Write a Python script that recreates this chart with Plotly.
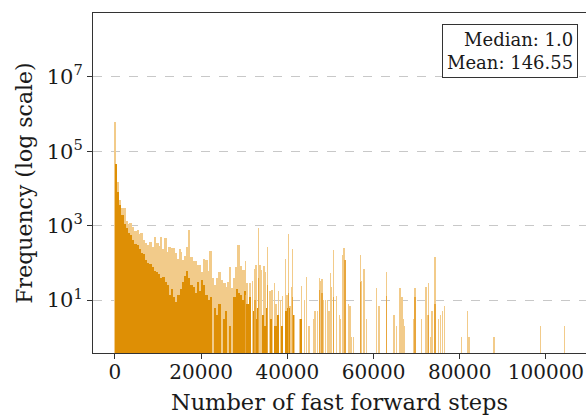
import plotly.graph_objects as go

# ---------------- data ----------------
BIN_W = 500  # width of the dense histogram bins (steps)
# typical (filled) count per 500-step bin
dense_counts = [45000, 8000, 3500, 1900, 1100, 850, 650, 560, 420, 330,
                300, 240, 180, 170, 120, 100, 95, 75, 60, 55,
                50, 38, 42, 30, 25, 14, 20, 12, 9, 14,
                20, 30, 45, 60, 40, 25, 22, 15, 30, 18,
                35, 25, 14, 10, 12, 0, 6, 4, 8, 0,
                3, 5, 0, 2, 0, 12, 20, 15, 14, 10,
                18, 8, 12, 0, 5, 3, 6, 0, 4, 2,
                6, 0, 3, 0, 2, 4, 0, 2, 0, 5,
                6, 0, 4, 0, 0, 0, 3, 0]
# highest single fine bin inside each 500-step bin (pale fringe)
dense_peak_counts = [45000, 15000, 5000, 3000, 2950, 1300, 1100, 1200, 900, 700,
                     760, 600, 630, 400, 350, 300, 370, 260, 500, 340,
                     280, 500, 230, 460, 200, 270, 150, 250, 180, 125,
                     200, 120, 150, 270, 760, 145, 110, 115, 87, 90,
                     58, 130, 120, 60, 210, 38, 25, 40, 58, 35,
                     28, 23, 30, 79, 21, 40, 79, 300, 80, 65]

spike_x = [0, 2090, 3480, 4180, 5340, 6030, 7660, 8350, 9280, 9980,
           10670, 11600, 12530, 13220, 13920, 14380, 15080, 15780, 16700, 17170,
           17860, 18790, 19490, 19950, 20650, 21110, 22040, 22740, 23430, 24130,
           24820, 25520, 25980, 26680, 27380, 28070, 28540, 29230, 29930, 30320,
           30620, 31320, 31950, 32480, 32710, 33250, 33640, 34030, 34570, 34870,
           35340, 35960, 36420, 36960, 37350, 37890, 38440, 38910, 39510, 39900,
           40210, 40600, 40990, 41230, 41600, 42920, 43310, 43920, 44470, 45010,
           46100, 46400, 47030, 47400, 47790, 48020, 48420, 48880, 49250, 49650,
           49950, 50270, 50740, 51430, 52040, 52270, 52830, 53130, 53360, 54220,
           54520, 54910, 55380, 57000, 57230, 57770, 58390, 60710, 61250, 63030,
           64730, 65350, 66120, 66580, 66890, 67120, 69370, 69600, 71150, 72150,
           72460, 72780, 73310, 73540, 74240, 75010, 75470, 75940, 76400, 80430,
           81830, 82130, 88000, 98680, 104250]
spike_counts = [620000, 2950, 1200, 930, 760, 630, 220, 370, 500, 340,
                500, 460, 270, 250, 180, 125, 230, 120, 270, 760,
                145, 115, 87, 58, 130, 120, 210, 38, 25, 58,
                35, 28, 23, 79, 21, 79, 300, 80, 65, 110,
                28, 28, 32, 70, 87, 850, 87, 65, 82, 58,
                270, 17, 19, 29, 8, 17, 10, 13, 130, 14,
                590, 7, 22, 230, 4, 3, 24, 10, 42, 2,
                3, 5, 5, 38, 32, 36, 10, 10, 10, 5,
                54, 23, 220, 13, 4, 3, 160, 245, 120, 8,
                7, 1, 1, 160, 32, 67, 3, 21, 7, 58,
                4, 2, 21, 12, 3, 2, 3, 21, 3, 22,
                4, 29, 1, 5, 140, 3, 4, 5, 7, 1,
                5, 1, 1, 2, 2]

dark_x = [30320, 32480, 33250, 35340, 40210, 41230, 47400, 48020,
          50740, 53360, 57000, 63030, 69600, 72780, 74240]
dark_counts = [14, 10, 40, 25, 15, 12, 19, 15, 12, 120, 30, 13, 12, 4, 8]

x_ticks = [0, 20000, 40000, 60000, 80000, 100000]
x_tick_text = ["0", "20000", "40000", "60000", "80000", "100000"]
y_ticks = [1e1, 1e3, 1e5, 1e7]
y_tick_text = ["10<sup>1</sup>", "10<sup>3</sup>", "10<sup>5</sup>", "10<sup>7</sup>"]

median_val = 1.0
mean_val = 146.55

# ---------------- figure ----------------
ORANGE = "#DE8F05"
PALE = "#F2CB8A"
MID = "#E8A63C"
FONT = "DejaVu Serif"

dense_x = [BIN_W * (i + 0.5) for i in range(len(dense_counts))]
peak_x = [BIN_W * (i + 0.5) for i in range(len(dense_peak_counts))]

fig = go.Figure()
fig.add_bar(x=peak_x, y=dense_peak_counts, width=BIN_W,
            marker=dict(color=PALE, line=dict(width=0)))
fig.add_bar(x=spike_x, y=spike_counts, width=100,
            marker=dict(color=PALE, line=dict(width=0)))
fig.add_bar(x=dense_x, y=dense_counts, width=BIN_W,
            marker=dict(color=ORANGE, line=dict(width=0)))
fig.add_bar(x=dark_x, y=dark_counts, width=100,
            marker=dict(color=MID, line=dict(width=0)))

fig.update_layout(
    width=586, height=415,
    margin=dict(l=93, r=0, t=13, b=62),
    barmode="overlay", bargap=0, showlegend=False,
    plot_bgcolor="white", paper_bgcolor="white",
    font=dict(family=FONT, size=20, color="#1a1a1a"),
)

fig.update_xaxes(
    range=[-5100, 109300],
    tickmode="array", tickvals=x_ticks, ticktext=x_tick_text,
    ticks="outside", ticklen=5, tickwidth=1, tickcolor="#333",
    tickfont=dict(family=FONT, size=20), ticklabelstandoff=-4,
    ticklabeloverflow="allow",
    showline=True, linecolor="#333", linewidth=1, mirror=True,
    showgrid=False, zeroline=False,
    title=dict(text="Number of fast forward steps", standoff=12,
               font=dict(family=FONT, size=22.5)),
)
fig.update_yaxes(
    type="log", range=[-0.425, 8.72],
    tickmode="array", tickvals=y_ticks, ticktext=y_tick_text,
    ticks="outside", ticklen=5, tickwidth=1, tickcolor="#333",
    tickfont=dict(family=FONT, size=21),
    showline=True, linecolor="#333", linewidth=1, mirror=False,
    showgrid=True, gridcolor="#c8c8c8", gridwidth=1, griddash="dash",
    zeroline=False,
    title=dict(text="Frequency (log scale)", standoff=8,
               font=dict(family=FONT, size=22)),
)

fig.add_annotation(
    xref="paper", yref="paper", x=0.984, y=0.968,
    xanchor="right", yanchor="top", align="right", showarrow=False,
    text=f"Median: {median_val:.1f}<br>Mean: {mean_val:.2f}",
    font=dict(family=FONT, size=18, color="#1a1a1a"),
    bordercolor="#333", borderwidth=1, borderpad=4, bgcolor="white",
)

fig.write_html("out.html")
